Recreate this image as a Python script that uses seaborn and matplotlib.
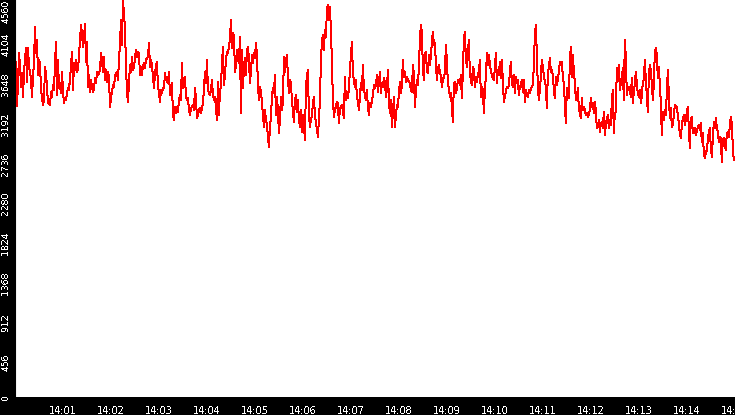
import numpy as np
import pandas as pd
from matplotlib import pyplot as plt
from matplotlib.ticker import FixedLocator, FuncFormatter
from matplotlib.transforms import ScaledTranslation
import seaborn as sb

"""DATA"""

t_start = 1.0      # seconds after 14:00:00
t_step = 1.25      # seconds between samples

seg1 = [3851, 3342, 3603, 3947, 3813, 3564, 3717, 3449, 3717, 3890,
        4005, 3622, 4005, 3794, 3737, 3641, 3449, 3679, 3832, 4254,
        3947, 4100, 3698, 3871, 3832, 3545, 3430, 3354, 3411, 3794,
        3717, 3564, 3373, 3365, 3354, 3507, 3449, 3583, 3526, 3832,
        4081, 3468, 3871, 3545, 3583, 3488, 3737, 3507, 3373, 3430,
        3411, 3488, 3545, 3526, 3660, 3794, 3966, 3526, 3832, 3756,
        3871, 3737, 3756, 3928, 4100, 4273, 4177, 4024, 4120, 4284,
        3851, 4081, 3564, 3698, 3507, 3641, 3564, 3507, 3545, 3660,
        3603, 3737, 3698, 3717, 3756, 3947, 3871, 3737, 3909, 3641,
        3756, 3622, 3737, 3679, 3335, 3430, 3507, 3583, 3564, 3679,
        3717, 3737, 3641, 3871, 4062, 4330, 4043, 4560, 4388, 4254,
        3813, 3507, 3392, 3603, 3813, 3737, 3909, 3756, 3794, 3890]

seg2 = [3986, 3909, 3966, 3947, 3698, 3794, 3698, 3813, 3832, 3775,
        3871, 3890, 3909, 4062, 3794, 3871, 3813, 3679, 3545, 3717,
        3794, 3851, 3564, 3507, 3392, 3526, 3488, 3545, 3545, 3717,
        3660, 3622, 3603, 3737, 3468, 3468, 3603, 3239, 3181, 3335,
        3258, 3335, 3277, 3411, 3468, 3411, 3832, 3545, 3660, 3679,
        3449, 3411, 3430, 3296, 3239, 3315, 3335, 3354, 3296, 3545,
        3430, 3200, 3239, 3296, 3315, 3258, 3315, 3373, 3545, 3737,
        3603, 3871, 3526, 3488, 3468, 3526, 3641, 3468, 3411, 3449,
        3335, 3181, 3622, 3239, 3526, 3564, 3832, 4024, 3583, 3698,
        3871, 3966, 3947, 4024, 4100, 4330, 4005, 4177, 4158, 3737,
        3794, 3986, 3871, 3832, 4139, 3258, 3986, 3545, 3794, 3890,
        3698, 3966, 4024, 3890, 3603, 3737, 3928, 3832, 3947, 3890]

seg3 = [4062, 3947, 3583, 3411, 3564, 3507, 3392, 3239, 3105, 3296,
        3181, 3124, 2990, 2875, 3105, 3200, 3449, 3545, 3488, 3698,
        3239, 3449, 3296, 3028, 3181, 3449, 3296, 3392, 3909, 3737,
        3871, 3928, 3679, 3488, 3641, 3603, 3411, 3277, 3162, 3411,
        3468, 3277, 3411, 3181, 3105, 3296, 3047, 3239, 3124, 2951,
        3564, 3679, 3756, 3239, 3105, 3181, 3239, 3373, 3449, 3239,
        3143, 3085, 2990, 3181, 3411, 3851, 4081, 4158, 3986, 4215,
        4139, 4445, 4503, 4330, 4483, 4215, 3851, 3411, 3220, 3296,
        3335, 3392, 3373, 3143, 3315, 3335, 3354, 3296, 3200, 3679,
        3411, 3507, 3430, 3545, 3756, 3928, 4081, 3717, 3641, 3564,
        3641, 3449, 3392, 3296, 3449, 3603, 3526, 3813, 3545, 3468,
        3411, 3526, 3335, 3239, 3373, 3335, 3392, 3468, 3583, 3545]

seg4 = [3583, 3698, 3507, 3603, 3737, 3488, 3603, 3564, 3660, 3622,
        3449, 3526, 3756, 3411, 3258, 3411, 3105, 3258, 3449, 3105,
        3220, 3354, 3335, 3488, 3622, 3488, 3583, 3871, 3679, 3737,
        3622, 3679, 3641, 3622, 3603, 3526, 3507, 3813, 3717, 3335,
        3507, 3641, 3583, 3775, 4100, 4273, 4196, 3775, 3641, 3947,
        3966, 3756, 3717, 3928, 3813, 3909, 4081, 4196, 4043, 4062,
        3832, 3641, 3756, 3813, 3737, 3679, 3564, 3641, 3679, 3717,
        4043, 3871, 3603, 3545, 3449, 3488, 3335, 3162, 3603, 3622,
        3488, 3545, 3641, 3622, 3583, 3698, 3430, 3737, 4100, 4196,
        3890, 3794, 3966, 4100, 3717, 3641, 3583, 3794, 3756, 3564,
        3679, 3622, 3698, 3737, 3871, 3449, 3564, 3526, 3258, 3526,
        3679, 3947, 3813, 3928, 3832, 3737, 3698, 3660, 3641, 3775]

seg5 = [3947, 3603, 3756, 3698, 3851, 3660, 3871, 3622, 3392, 3449,
        3507, 3564, 3545, 3583, 3717, 3851, 3603, 3564, 3698, 3488,
        3679, 3603, 3641, 3468, 3564, 3583, 3641, 3507, 3641, 3392,
        3526, 3468, 3449, 3526, 3488, 3545, 3564, 3583, 3813, 4158,
        4273, 3928, 3564, 3411, 3526, 3679, 3871, 3794, 3698, 3622,
        3564, 3315, 3717, 3794, 3890, 3737, 3756, 3698, 3526, 3430,
        3679, 3583, 3641, 3737, 3851, 3813, 3851, 3679, 3603, 3373,
        3143, 3545, 3468, 3430, 3851, 4024, 3679, 3928, 3737, 3622,
        3411, 3449, 3545, 3315, 3258, 3200, 3430, 3296, 3335, 3296,
        3239, 3258, 3220, 3239, 3296, 3430, 3335, 3373, 3258, 3392,
        3296, 3085, 3105, 3181, 3047, 3143, 3162, 3085, 3277, 3009,
        3124, 3200, 3239, 3085, 3181, 3124, 3411, 3526, 3028, 3258]

seg6 = [3277, 3775, 3641, 3813, 3526, 3603, 3679, 3775, 3411, 4100,
        3909, 3468, 3545, 3564, 3545, 3449, 3660, 3373, 3507, 3603,
        3737, 3603, 3488, 3449, 3526, 3373, 3449, 3622, 3641, 3871,
        3641, 3449, 3277, 3679, 3813, 3756, 3603, 3411, 3583, 3966,
        4005, 3928, 3660, 3794, 3603, 3373, 3009, 3277, 3181, 3296,
        3239, 3488, 3756, 3488, 3200, 3315, 3105, 3124, 3239, 3354,
        3335, 3335, 3239, 3143, 3028, 2971, 3124, 3200, 3239, 3124,
        3181, 3277, 3335, 3085, 2856, 3181, 3220, 3047, 3028, 3085,
        3009, 3047, 3105, 3124, 3066, 3143, 2932, 3028, 2817, 2741,
        2798, 2837, 2951, 3047, 3085, 2875, 2760, 2971, 3162, 3085,
        3200, 3105, 3047, 2932, 2990, 2971, 2702, 2951, 2971, 2913,
        2837, 3028, 3047, 2990, 3105, 3220, 3143, 2875, 2722, 2750]

y_ticks = [0, 456, 912, 1368, 1824, 2280, 2736, 3192, 3648, 4104, 4560]
x_ticks = [60 * m for m in range(1, 16)]   # every minute, 14:01 .. 14:15

################################################################################################
"""PLOT"""

vals = seg1 + seg2 + seg3 + seg4 + seg5 + seg6
df = pd.DataFrame({"t": t_start + t_step * np.arange(len(vals)), "value": vals})

sb.set_style("white")
plt.rcParams["font.family"] = ["DejaVu Sans"]
plt.rcParams["text.antialiased"] = False

fig = plt.figure(figsize=(7.35, 4.15), dpi=100, facecolor="black")
ax = fig.add_axes([16 / 735, 18 / 415, 719 / 735, 397 / 415])
ax.set_facecolor("white")

sb.lineplot(data=df, x="t", y="value", color="#ff0000", linewidth=0.72,
            antialiased=False, ax=ax)

ax.set_xlim(1, 900)
ax.set_ylim(0, 4560)
ax.set_xlabel("")
ax.set_ylabel("")

# black frame, ticks and labels in white on the black border
for side in ["top", "right"]:
    ax.spines[side].set_visible(False)
for side in ["left", "bottom"]:
    ax.spines[side].set_color("black")
ax.spines["left"].set_position(("outward", 0.5))
ax.spines["bottom"].set_position(("outward", 1.5))

ax.xaxis.set_major_locator(FixedLocator(x_ticks))
ax.xaxis.set_major_formatter(FuncFormatter(lambda s, pos: "14:%02d" % int(round(s / 60))))
ax.yaxis.set_major_locator(FixedLocator(y_ticks))

ax.tick_params(axis="both", colors="white", labelcolor="white", width=0.8, direction="out")
ax.tick_params(axis="x", labelsize=7, length=4.2, pad=1.0)
ax.tick_params(axis="y", labelsize=6.7, length=3.5, pad=0)

fig.canvas.draw()
for lab in ax.get_yticklabels():
    lab.set_rotation(90)
    lab.set_va("center")
    txt = lab.get_text()
    shift = 0 if txt == "0" else -5
    if txt == "4560":
        shift = -11
    lab.set_transform(lab.get_transform() + ScaledTranslation(0, shift / 100, fig.dpi_scale_trans))

plt.savefig("out.png", dpi=100, facecolor="black")
plt.close()
